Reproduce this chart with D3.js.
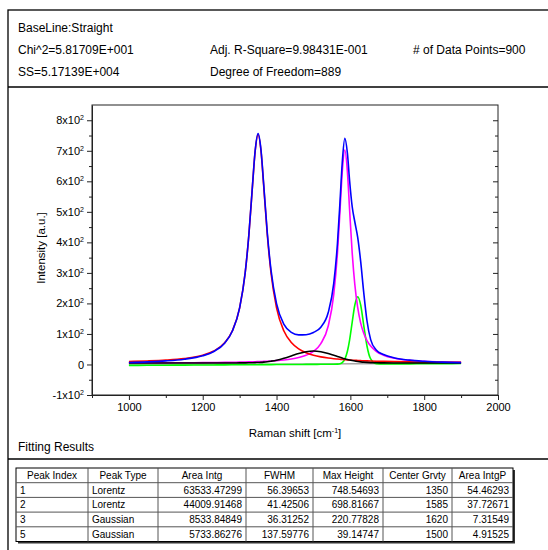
<!DOCTYPE html>
<html>
<head>
<meta charset="utf-8">
<script src="https://cdn.jsdelivr.net/npm/d3@7"></script>
<style>
  body { margin: 0; background: #fff; }
  svg text { font-family: "Liberation Sans", Arial, sans-serif; fill: #000; }
</style>
</head>
<body>
<div id="chart"></div>
<script>
// fit summary
const statsCol1 = ['BaseLine:Straight', 'Chi^2=5.81709E+001', 'SS=5.17139E+004'];
const statsCol2 = ['', 'Adj. R-Square=9.98431E-001', 'Degree of Freedom=889'];
const statsCol3 = ['', '# of Data Points=900', ''];

// spectrum
const ramanShift = [1000, 1050, 1100, 1150, 1200, 1230, 1260, 1280, 1300, 1315, 1325, 1335, 1342, 1350, 1358, 1365, 1375, 1385, 1400, 1420, 1440, 1460, 1480, 1500, 1520, 1540, 1555, 1565, 1572, 1578, 1585, 1592, 1598, 1605, 1612, 1620, 1628, 1636, 1645, 1655, 1670, 1690, 1720, 1760, 1800, 1850, 1900];
const peak1 = [9.8, 11.6, 14.4, 19.6, 30.5, 44.2, 71.9, 109.5, 185.6, 299.7, 424.1, 588.4, 697.7, 753.5, 697.7, 588.4, 424.1, 299.7, 185.6, 109.5, 71.9, 51.1, 38.6, 30.5, 25.0, 21.1, 18.9, 17.7, 16.9, 16.3, 15.6, 15.0, 14.6, 14.0, 13.6, 13.1, 12.6, 12.2, 11.8, 11.3, 10.8, 10.1, 9.3, 8.5, 7.9, 7.4, 7.0];
const peak2 = [4.9, 5.0, 5.3, 5.6, 6.0, 6.4, 6.8, 7.2, 7.7, 8.1, 8.4, 8.8, 9.0, 9.4, 9.8, 10.1, 10.7, 11.4, 12.6, 14.8, 18.0, 22.7, 30.1, 43.1, 68.3, 126.0, 229.4, 365.3, 505.3, 631.1, 702.8, 631.1, 505.3, 365.3, 262.7, 185.1, 135.5, 102.8, 78.3, 60.2, 43.1, 30.1, 20.1, 13.6, 10.4, 8.2, 7.0];
const peak3 = [-3.0, -2.7, -2.3, -2.0, -1.7, -1.5, -1.3, -1.1, -1.0, -0.9, -0.8, -0.8, -0.7, -0.7, -0.6, -0.6, -0.5, -0.4, -0.3, -0.2, -0.1, 0.1, 0.2, 0.3, 0.5, 0.6, 0.7, 1.2, 2.5, 6.3, 17.7, 43.4, 80.8, 138.6, 194.1, 221.9, 194.2, 130.1, 60.6, 18.2, 2.7, 1.6, 1.8, 2.1, 2.3, 2.7, 3.0];
const peak5 = [5.0, 5.0, 5.0, 5.0, 5.0, 5.0, 5.0, 5.0, 5.1, 5.3, 5.4, 5.7, 6.0, 6.5, 6.9, 7.6, 9.0, 10.8, 14.0, 20.3, 28.1, 36.0, 41.9, 44.2, 41.9, 36.0, 30.1, 26.1, 23.3, 21.1, 18.6, 16.3, 14.6, 12.8, 11.2, 9.8, 8.6, 7.6, 6.8, 6.2, 5.6, 5.2, 5.0, 5.0, 5.0, 5.0, 5.0];
const measured = [6.7, 8.6, 11.7, 17.2, 28.5, 42.6, 70.7, 108.7, 185.4, 300.0, 424.9, 589.9, 699.7, 756.3, 701.5, 593.3, 430.8, 308.8, 199.3, 131.6, 105.0, 96.8, 97.6, 104.8, 122.2, 170.1, 265.4, 396.5, 534.2, 660.9, 740.8, 691.9, 601.2, 516.7, 467.5, 415.7, 336.7, 238.5, 143.2, 81.5, 47.6, 32.5, 21.4, 14.2, 10.4, 7.6, 6.0];
const baseX = [1000, 1900];
const baseY = [-1, 4];

const xTicks = [1000, 1200, 1400, 1600, 1800, 2000];
const xMinor = [900, 1100, 1300, 1500, 1700, 1900];
const yTicks = [-100, 0, 100, 200, 300, 400, 500, 600, 700, 800];
const yMinor = [-50, 50, 150, 250, 350, 450, 550, 650, 750];
const yTickMant = ['-1', '0', '1', '2', '3', '4', '5', '6', '7', '8'];

// results table
const tableHead = ['Peak Index', 'Peak Type', 'Area Intg', 'FWHM', 'Max Height', 'Center Grvty', 'Area IntgP'];
const peakIndex = ['1', '2', '3', '5'];
const peakType = ['Lorentz', 'Lorentz', 'Gaussian', 'Gaussian'];
const areaIntg = ['63533.47299', '44009.91468', '8533.84849', '5733.86276'];
const fwhm = ['56.39653', '41.42506', '36.31252', '137.59776'];
const maxHeight = ['748.54693', '698.81667', '220.77828', '39.14747'];
const centerGrvty = ['1350', '1585', '1620', '1500'];
const areaIntgP = ['54.46293', '37.72671', '7.31549', '4.91525'];

const W = 548, H = 550;
const svg = d3.select('#chart').append('svg')
  .attr('width', W).attr('height', H)

svg.append('rect').attr('width', W).attr('height', H).attr('fill', '#fff')

// outer box + separators
svg.append('rect')
  .attr('x', 8).attr('y', 10).attr('width', 560).attr('height', 560)
  .attr('fill', 'none').attr('stroke', '#000').attr('stroke-width', 1.3)
svg.append('line').attr('x1', 8).attr('x2', W).attr('y1', 87).attr('y2', 87)
  .attr('stroke', '#000').attr('stroke-width', 1.3)
svg.append('line').attr('x1', 8).attr('x2', W).attr('y1', 459).attr('y2', 459)
  .attr('stroke', '#000').attr('stroke-width', 1.3)

// header stats
const statRows = [32, 54, 75.5];
[[statsCol1, 18], [statsCol2, 210], [statsCol3, 413]].forEach(([col, cx]) => {
  col.forEach((t, i) => {
    svg.append('text').attr('x', cx).attr('y', statRows[i])
      .attr('font-size', 12).text(t)
  })
})

// plot area
const margin = {left: 92, right: 498, top: 105, bottom: 395};
const x = d3.scaleLinear().domain([900, 2000]).range([margin.left, margin.right]);
const y = d3.scaleLinear().domain([-100, 850]).range([margin.bottom, margin.top]);

const plot = svg.append('g')

// bottom axis
const xAxis = plot.append('g').attr('transform', 'translate(0,' + margin.bottom + ')')
  .call(d3.axisBottom(x).tickValues(xTicks).tickFormat(d3.format('d')).tickSize(5).tickSizeOuter(0).tickPadding(3))
xAxis.selectAll('text').attr('font-size', 11).attr('font-family', null)
plot.append('g').attr('transform', 'translate(0,' + margin.bottom + ')')
  .call(d3.axisBottom(x).tickValues(xMinor).tickSize(3).tickSizeOuter(0).tickFormat(''))
  .select('.domain').remove()

// left axis
const yAxis = plot.append('g').attr('transform', 'translate(' + margin.left + ',0)')
  .call(d3.axisLeft(y).tickValues(yTicks).tickSize(5).tickSizeOuter(0).tickPadding(3))
yAxis.selectAll('.tick text')
  .attr('font-size', 11).attr('font-family', null)
  .each(function(d, i) {
    const t = d3.select(this).text('')
    if (d == 0) { t.text('0'); return; }
    t.append('tspan').text(yTickMant[i] + 'x10')
    t.append('tspan').attr('dy', -4).attr('font-size', 7).text('2')
  })
plot.append('g').attr('transform', 'translate(' + margin.left + ',0)')
  .call(d3.axisLeft(y).tickValues(yMinor).tickSize(3).tickSizeOuter(0).tickFormat(''))
  .select('.domain').remove()

// right axis, ticks pointing in
plot.append('g').attr('transform', 'translate(' + margin.right + ',0)')
  .call(d3.axisLeft(y).tickValues(yTicks).tickSize(5).tickSizeOuter(0).tickFormat(''))
  .select('.domain').remove()
plot.append('g').attr('transform', 'translate(' + margin.right + ',0)')
  .call(d3.axisLeft(y).tickValues(yMinor).tickSize(3).tickSizeOuter(0).tickFormat(''))
  .select('.domain').remove()

plot.selectAll('.tick line').attr('stroke', '#222')
plot.selectAll('.domain').attr('stroke', '#222')

// frame
plot.append('rect')
  .attr('x', margin.left).attr('y', margin.top)
  .attr('width', margin.right - margin.left).attr('height', margin.bottom - margin.top)
  .attr('fill', 'none').attr('stroke', '#222').attr('stroke-width', 1)

// axis titles
svg.append('text')
  .attr('transform', 'translate(45,248)rotate(-90)')
  .attr('text-anchor', 'middle').attr('font-size', 11.5)
  .text('Intensity [a.u.]')
const xt = svg.append('text').attr('x', 295).attr('y', 437)
  .attr('text-anchor', 'middle').attr('font-size', 11.5)
xt.append('tspan').text('Raman shift [cm')
xt.append('tspan').attr('dy', -4).attr('font-size', 7).text('-1')
xt.append('tspan').attr('dy', 4).text(']')

// curves
const line = d3.line()
  .x(d => x(d[0]))
  .y(d => y(d[1]))
  .curve(d3.curveMonotoneX)

const series = [
  {vals: null, color: '#a8a8a8'},
  {vals: peak3, color: '#00ff00'},
  {vals: peak2, color: '#ff00ff'},
  {vals: peak1, color: '#ff0000'},
  {vals: peak5, color: '#000000'},
  {vals: measured, color: '#0000ff'}
]
series.forEach(s => {
  const pts = s.vals ? ramanShift.map((r, i) => [r, s.vals[i]]) : baseX.map((r, i) => [r, baseY[i]])
  plot.append('path')
    .datum(pts)
    .attr('d', line)
    .attr('fill', 'none')
    .attr('stroke', s.color)
    .attr('stroke-width', 1.6)
})

// Fitting Results
svg.append('text').attr('x', 18).attr('y', 451).attr('font-size', 12).text('Fitting Results')

const colEdges = [16, 88, 158, 246, 313, 383, 452, 513];
const rowTop = 468, rowH = 14.7;
const rows = peakIndex.map((p, i) => [p, peakType[i], areaIntg[i], fwhm[i], maxHeight[i], centerGrvty[i], areaIntgP[i]]);
const tableBottom = rowTop + rowH * (rows.length + 1);

const tbl = svg.append('g')
// shadow
tbl.append('rect')
  .attr('x', colEdges[0] + 2).attr('y', rowTop + 2)
  .attr('width', colEdges[7] - colEdges[0]).attr('height', tableBottom - rowTop)
  .attr('fill', '#333')
tbl.append('rect')
  .attr('x', colEdges[0]).attr('y', rowTop)
  .attr('width', colEdges[7] - colEdges[0]).attr('height', tableBottom - rowTop)
  .attr('fill', '#fff').attr('stroke', '#000').attr('stroke-width', 1)

// grid lines
for (let i = 1; i < colEdges.length - 1; i++) {
  tbl.append('line')
    .attr('x1', colEdges[i]).attr('x2', colEdges[i])
    .attr('y1', rowTop).attr('y2', tableBottom)
    .attr('stroke', '#555').attr('stroke-width', 1)
}
for (let r = 1; r <= rows.length; r++) {
  tbl.append('line')
    .attr('x1', colEdges[0]).attr('x2', colEdges[7])
    .attr('y1', rowTop + r * rowH).attr('y2', rowTop + r * rowH)
    .attr('stroke', '#555').attr('stroke-width', 1)
}

tableHead.forEach((h, c) => {
  tbl.append('text')
    .attr('x', (colEdges[c] + colEdges[c + 1]) / 2).attr('y', rowTop + 11)
    .attr('text-anchor', 'middle').attr('font-size', 10).text(h)
})
rows.forEach((row, r) => {
  row.forEach((v, c) => {
    const left = c < 2;
    tbl.append('text')
      .attr('x', left ? colEdges[c] + 4 : colEdges[c + 1] - 4)
      .attr('y', rowTop + (r + 1) * rowH + 11)
      .attr('text-anchor', left ? 'start' : 'end')
      .attr('font-size', 10).text(v)
  })
})
</script>
</body>
</html>
